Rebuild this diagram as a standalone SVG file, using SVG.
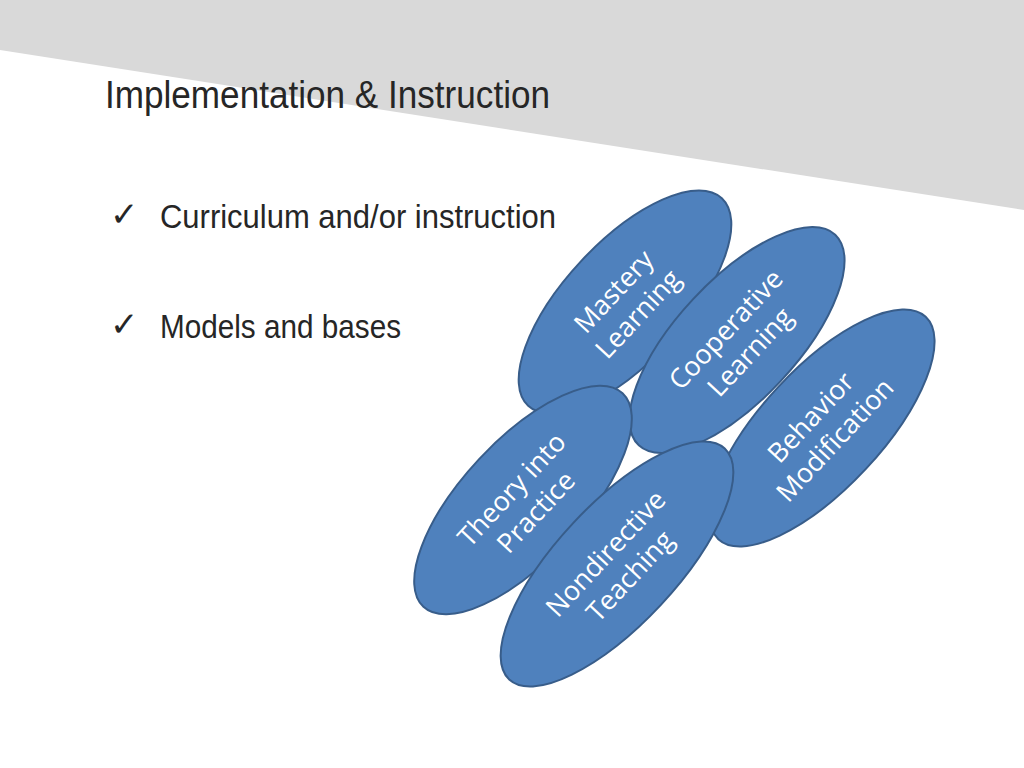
<svg xmlns="http://www.w3.org/2000/svg" width="1024" height="768" viewBox="0 0 1024 768">
<style>
.t{font-family:"Liberation Sans Narrow","Liberation Sans",sans-serif;fill:#262626}
.e{fill:#4f81bd;stroke:#385d8a;stroke-width:2}
.l{font-family:"Open Sans",sans-serif;font-size:27px;fill:#fff;text-anchor:middle}
</style>
<rect width="1024" height="768" fill="#fff"/>
<polygon points="0,0 1024,0 1024,210 0,50" fill="#d9d9d9"/>
<text class="t" x="105" y="108" font-size="38" textLength="445" lengthAdjust="spacingAndGlyphs" fill="#404040">Implementation &amp; Instruction</text>
<text class="t" x="110" y="226" font-size="34" font-family="DejaVu Sans">✓</text>
<text class="t" x="160" y="228" font-size="34" textLength="396" lengthAdjust="spacingAndGlyphs">Curriculum and/or instruction</text>
<text class="t" x="110" y="336" font-size="34" font-family="DejaVu Sans">✓</text>
<text class="t" x="160" y="338" font-size="34" textLength="241" lengthAdjust="spacingAndGlyphs">Models and bases</text>
<g id="mastery" transform="translate(625,302) rotate(-47)"><ellipse class="e" rx="142" ry="60"/><text class="l" y="-6">Mastery</text><text class="l" y="27">Learning</text></g>
<g id="cooperative" transform="translate(737,340) rotate(-47)"><ellipse class="e" rx="144" ry="60"/><text class="l" y="-6">Cooperative</text><text class="l" y="27">Learning</text></g>
<g id="behavior" transform="translate(822,428) rotate(-47)"><ellipse class="e" rx="152" ry="60"/><text class="l" y="-6">Behavior</text><text class="l" y="27">Modification</text></g>
<g id="theory" transform="translate(523,500) rotate(-47)"><ellipse class="e" rx="146" ry="60"/><text class="l" y="-6">Theory into</text><text class="l" y="27">Practice</text></g>
<g id="nondirective" transform="translate(617,564) rotate(-47)"><ellipse class="e" rx="158" ry="60"/><text class="l" y="-6">Nondirective</text><text class="l" y="27">Teaching</text></g>
<g id="connectors"/>
</svg>
